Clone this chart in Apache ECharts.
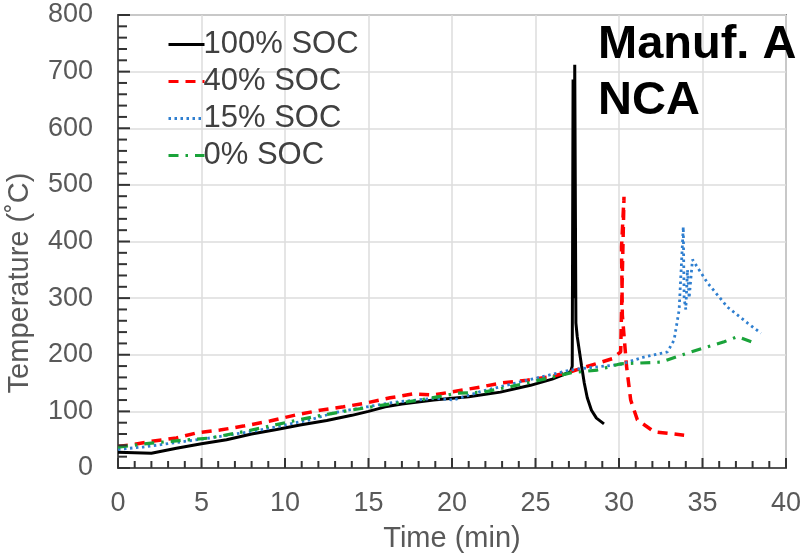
<!DOCTYPE html>
<html>
<head>
<meta charset="utf-8">
<script src="https://cdn.jsdelivr.net/npm/echarts@6/dist/echarts.min.js"></script>
<style>
html,body{margin:0;padding:0;background:#fff;}
#chart{width:807px;height:556px;}
</style>
</head>
<body>
<div id="chart"></div>
<script>
// ---- Data ----
var xTicks = [0, 5, 10, 15, 20, 25, 30, 35, 40];
var yTicks = [0, 100, 200, 300, 400, 500, 600, 700, 800];
var xMinorTicks = [1, 2, 3, 4, 6, 7, 8, 9, 11, 12, 13, 14, 16, 17, 18, 19, 21, 22, 23, 24, 26, 27, 28, 29, 31, 32, 33, 34, 36, 37, 38, 39];
var yMinorTicks = [20, 40, 60, 80, 120, 140, 160, 180, 220, 240, 260, 280, 320, 340, 360, 380, 420, 440, 460, 480, 520, 540, 560, 580, 620, 640, 660, 680, 720, 740, 760, 780];
var seriesNames = ['100% SOC', '40% SOC', '15% SOC', '0% SOC'];

var soc100Time = [0, 1, 2, 3.5, 5, 6.5, 8, 9.5, 10.9, 12.5, 14, 15, 16, 17, 18.9, 21, 22.9, 24.7, 26, 27.1, 27.2, 27.25, 27.3, 27.35, 27.42, 27.5, 27.62, 27.76, 27.92, 28.1, 28.35, 28.65, 29.1];
var soc100Temp = [28, 27, 26, 35, 43, 50, 60, 68, 76, 84, 93, 100, 108, 113, 120, 126, 134, 146, 157, 170, 180, 686, 300, 712, 256, 232, 208, 180, 150, 124, 102, 88, 78];

var soc40Time = [0, 1, 2, 3.5, 4.7, 6.1, 7.5, 9.1, 10.7, 12.1, 13.5, 14.9, 16.3, 17.7, 18.9, 20.3, 21.7, 22.9, 24.5, 26, 27.1, 28.5, 29.6, 30.1, 30.3, 30.15, 30.2, 30.45, 30.7, 31.1, 32.1, 33.9];
var soc40Temp = [38, 42, 47, 53, 62, 67, 74, 83, 94, 102, 108, 115, 124, 131, 129, 136, 143, 150, 155, 162, 170, 183, 193, 205, 479, 390, 270, 180, 120, 85, 64, 58];

var soc15Time = [0, 1.5, 3.5, 5.5, 8.5, 11.5, 13, 14.9, 16.5, 18.9, 20.1, 21.7, 24.5, 27.1, 28.5, 30.1, 31.5, 32.9, 33.3, 33.6, 33.85, 33.9, 34.0, 34.1, 34.2, 34.4, 35.3, 36.5, 37.7, 38.5];
var soc15Temp = [33, 37, 45, 53, 67, 85, 98, 108, 116, 123, 120, 135, 155, 173, 178, 183, 196, 205, 226, 279, 426, 300, 280, 350, 300, 368, 327, 284, 256, 238];

var soc0Time = [0, 2, 3.5, 5.5, 7.5, 10.5, 12, 13.9, 16.3, 18.1, 20.3, 21.9, 24.5, 27.1, 28.7, 30.1, 32.5, 34.1, 35.3, 36.3, 37.1, 38.1];
var soc0Temp = [37, 44, 48, 53, 64, 83, 92, 102, 113, 120, 132, 134, 150, 168, 173, 184, 187, 203, 214, 223, 232, 221];

function zip(a, b) { return a.map(function (v, i) { return [v, b[i]]; }); }

var chart = echarts.init(document.getElementById('chart'), null, {renderer: 'canvas'});
var FONT = '"Liberation Sans", Arial, sans-serif';
var TICK = '#333333';

function lineSeries(name, t, T, color, width, dash) {
  return {
    name: name, type: 'line', data: zip(t, T),
    showSymbol: false, symbol: 'none', smooth: false, animation: false,
    lineStyle: {color: color, width: width, type: dash},
    itemStyle: {color: color},
    z: 3
  };
}

var yTitle = {
  type: 'text', x: 20, y: 283, rotation: Math.PI / 2,
  style: {text: 'Temperature (˚C)', fontFamily: FONT, fontSize: 29, fill: '#595959',
    textAlign: 'center', textVerticalAlign: 'middle'}
};

var option = {
  backgroundColor: '#ffffff',
  animation: false,
  grid: {left: 118, right: 21, top: 15, bottom: 88, outerBoundsMode: 'none', containLabel: false,
    show: true, borderColor: '#8a8a8a', borderWidth: 2, backgroundColor: 'transparent'},
  title: {
    text: 'Manuf. A\nNCA', left: 593, top: 12,
    textStyle: {fontFamily: FONT, fontSize: 47, fontWeight: 'bold', color: '#000', lineHeight: 56}
  },
  legend: {
    orient: 'vertical', left: 162, top: 24, itemWidth: 36, itemHeight: 14, itemGap: 6,
    data: seriesNames,
    itemStyle: {color: 'rgba(0,0,0,0)', borderColor: 'rgba(0,0,0,0)', borderWidth: 0},
    lineStyle: {width: 3},
    textStyle: {fontFamily: FONT, fontSize: 31, color: '#404040', padding: [0, 0, 0, -6], lineHeight: 30}
  },
  xAxis: {
    type: 'value', min: 0, max: 40, interval: 5,
    name: 'Time (min)', nameLocation: 'middle', nameGap: 56,
    nameTextStyle: {fontFamily: FONT, fontSize: 29, color: '#595959'},
    axisLine: {show: true, onZero: false, lineStyle: {color: '#555555', width: 2}},
    axisTick: {show: false},
    axisLabel: {fontFamily: FONT, fontSize: 27, color: '#595959', margin: 22},
    splitLine: {show: true, lineStyle: {color: '#dcdcdc', width: 1.5}}
  },
  yAxis: {
    type: 'value', min: 0, max: 800, interval: 100,
    axisLine: {show: true, onZero: false, lineStyle: {color: '#555555', width: 2}},
    axisTick: {show: false},
    axisLabel: {fontFamily: FONT, fontSize: 27, color: '#595959', margin: 25},
    splitLine: {show: true, lineStyle: {color: '#dcdcdc', width: 1.5}}
  },
  graphic: [yTitle],
  series: [
    lineSeries(seriesNames[0], soc100Time, soc100Temp, '#000000', 3, 'solid'),
    lineSeries(seriesNames[1], soc40Time, soc40Temp, '#ff0000', 3.5, [10, 7]),
    lineSeries(seriesNames[2], soc15Time, soc15Temp, '#2f7fd0', 2.8, [2.5, 3.5]),
    lineSeries(seriesNames[3], soc0Time, soc0Temp, '#1aa33a', 3.2, [10, 7, 2.5, 7])
  ]
};
chart.setOption(option);

// inward tick marks placed through the chart's own axis scales
var tickEls = [yTitle];
function addTicks(vals, isX, len) {
  vals.forEach(function (v) {
    var p = chart.convertToPixel({gridIndex: 0}, isX ? [v, 0] : [0, v]);
    if (!p) return;
    tickEls.push({
      type: 'line', silent: true, z: 100,
      shape: isX ? {x1: p[0], y1: p[1], x2: p[0], y2: p[1] - len}
                 : {x1: p[0], y1: p[1], x2: p[0] + len, y2: p[1]},
      style: {stroke: TICK, lineWidth: 2}
    });
  });
}
addTicks(xTicks, true, 10);
addTicks(xMinorTicks, true, 7);
addTicks(yTicks, false, 12);
addTicks(yMinorTicks, false, 9);
chart.setOption({graphic: tickEls});
</script>
</body>
</html>
